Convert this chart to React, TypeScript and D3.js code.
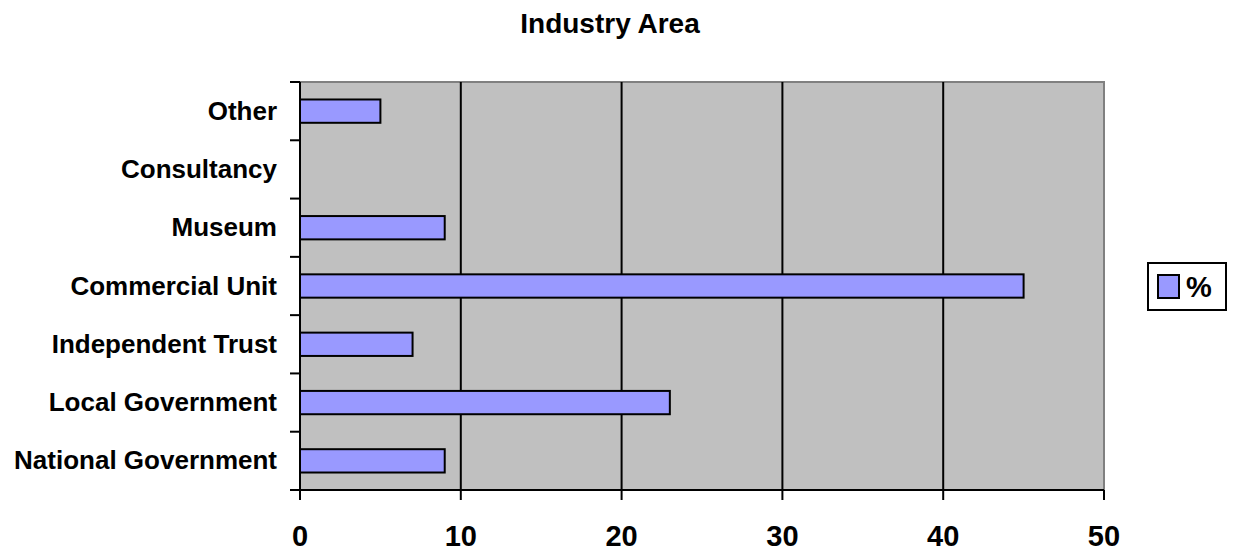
import React from "react";
import * as d3 from "d3";

const categories = [
  "National Government",
  "Local Government",
  "Independent Trust",
  "Commercial Unit",
  "Museum",
  "Consultancy",
  "Other",
];
const percentValues = [9, 23, 7, 45, 9, 0, 5];
const xTicks = [0, 10, 20, 30, 40, 50];
const seriesName = "%";
const chartTitle = "Industry Area";

const W = 1235;
const H = 553;
const plot = { left: 300, right: 1104, top: 82, bottom: 490 };
const FONT = "'Liberation Sans', Arial, sans-serif";

export default function App() {
  const x = d3.scaleLinear().domain([0, 50]).range([plot.left, plot.right]);
  // categories listed bottom-to-top
  const y = d3
    .scaleBand<string>()
    .domain([...categories].reverse())
    .range([plot.top, plot.bottom])
    .paddingInner(0.6)
    .paddingOuter(0.3);
  const band = d3
    .scaleBand<string>()
    .domain([...categories].reverse())
    .range([plot.top, plot.bottom]);
  const step = band.step();

  return (
    <svg
      width={W}
      height={H}
      style={{ position: "absolute", left: 0, top: 0 }}
      fontFamily={FONT}
    >
      <rect x={0} y={0} width={W} height={H} fill="#fff" />
      <text x={610} y={33} textAnchor="middle" fontSize={28} fontWeight="bold">
        {chartTitle}
      </text>

      {/* plot background */}
      <rect
        x={plot.left}
        y={plot.top}
        width={plot.right - plot.left}
        height={plot.bottom - plot.top}
        fill="#C0C0C0"
        stroke="#808080"
        strokeWidth={2}
      />

      {/* vertical gridlines */}
      {xTicks.slice(1, -1).map((t) => (
        <line
          key={"g" + t}
          x1={x(t)}
          x2={x(t)}
          y1={plot.top}
          y2={plot.bottom}
          stroke="#000"
          strokeWidth={2}
        />
      ))}

      {/* bars */}
      {categories.map((c, i) =>
        percentValues[i] > 0 ? (
          <rect
            key={c}
            x={x(0)}
            y={y(c)!}
            width={x(percentValues[i]) - x(0)}
            height={y.bandwidth()}
            fill="#9999FF"
            stroke="#000"
            strokeWidth={2}
          />
        ) : null
      )}

      {/* axes */}
      <line x1={plot.left} x2={plot.left} y1={plot.top} y2={plot.bottom} stroke="#000" strokeWidth={2} />
      <line x1={plot.left - 10} x2={plot.right} y1={plot.bottom} y2={plot.bottom} stroke="#000" strokeWidth={2} />
      {d3.range(categories.length + 1).map((k) => (
        <line
          key={"yt" + k}
          x1={plot.left - 10}
          x2={plot.left}
          y1={plot.top + k * step}
          y2={plot.top + k * step}
          stroke="#000"
          strokeWidth={2}
        />
      ))}
      {xTicks.map((t) => (
        <g key={"xt" + t}>
          <line x1={x(t)} x2={x(t)} y1={plot.bottom} y2={plot.bottom + 10} stroke="#000" strokeWidth={2} />
          <text x={x(t)} y={546} textAnchor="middle" fontSize={29} fontWeight="bold">
            {t}
          </text>
        </g>
      ))}

      {/* category labels */}
      {categories.map((c) => (
        <text
          key={"l" + c}
          x={277}
          y={band(c)! + step / 2 + 8.5}
          textAnchor="end"
          fontSize={26}
          fontWeight="bold"
        >
          {c}
        </text>
      ))}

      {/* legend */}
      <rect x={1148} y={263} width={78} height={47} fill="#fff" stroke="#000" strokeWidth={2} />
      <rect x={1158} y={275} width={21} height={23} fill="#9999FF" stroke="#000" strokeWidth={2} />
      <text x={1186} y={297} fontSize={29} fontWeight="bold">
        {seriesName}
      </text>
    </svg>
  );
}
